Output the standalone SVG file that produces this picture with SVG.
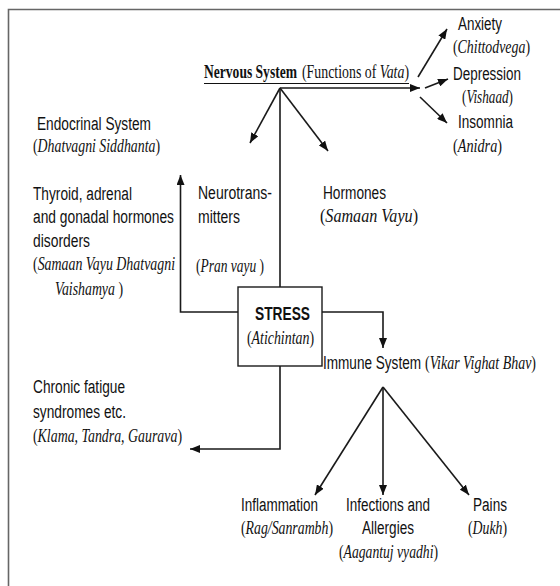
<svg xmlns="http://www.w3.org/2000/svg" width="560" height="586" viewBox="0 0 560 586">
<style>
.sa{font-family:"Liberation Sans",Arial,sans-serif;font-size:18px;fill:#111}
.se{font-family:"Liberation Serif","Times New Roman",serif;font-size:18px;fill:#111}
.i{font-style:italic}
.b{font-weight:bold}
.ln{fill:none;stroke:#1a1a1a;stroke-width:1.6}
.frame{fill:none;stroke:#666;stroke-width:1.6}
</style>
<defs>
<marker id="ah" markerUnits="userSpaceOnUse" markerWidth="10" markerHeight="8" refX="10" refY="4" orient="auto">
<path d="M0,0 L10,4 L0,8 z" fill="#111"/>
</marker>
</defs>
<rect width="560" height="586" fill="#fff"/>
<path class="frame" d="M8.5,586 V9.5 H560"/>

<g id="connectors">
<path class="ln" d="M280,88 H420" stroke-width="2.6" marker-end="url(#ah)"/>
<path class="ln" d="M280,287 V88"/>
<path class="ln" d="M280,88 L250,143" marker-end="url(#ah)"/>
<path class="ln" d="M280,88 L328,151" marker-end="url(#ah)"/>
<path class="ln" d="M418,77 L447,29" marker-end="url(#ah)"/>
<path class="ln" d="M425,88 L448,79" marker-end="url(#ah)"/>
<path class="ln" d="M420,97 L447,123" marker-end="url(#ah)"/>
<path class="ln" d="M238,312 H180.5 V175" marker-end="url(#ah)"/>
<path class="ln" d="M322,312 H383 V348" marker-end="url(#ah)"/>
<path class="ln" d="M280,366 V449 H190" marker-end="url(#ah)"/>
<path class="ln" d="M383,387 L315,495" marker-end="url(#ah)"/>
<path class="ln" d="M383,387 V495" marker-end="url(#ah)"/>
<path class="ln" d="M383,387 L469,495" marker-end="url(#ah)"/>
</g>

<g id="nervous">
<text class="se b" x="204" y="78" textLength="93" lengthAdjust="spacingAndGlyphs">Nervous System</text>
<text class="se" x="302" y="78" textLength="107" lengthAdjust="spacingAndGlyphs">(Functions of <tspan class="i">Vata</tspan>)</text>
<line x1="204" y1="83.5" x2="409" y2="83.5" stroke="#111" stroke-width="1.2"/>
</g>

<g id="anxiety">
<text class="sa" x="458" y="30" textLength="44" lengthAdjust="spacingAndGlyphs">Anxiety</text>
<text class="se" x="453" y="53" textLength="77" lengthAdjust="spacingAndGlyphs">(<tspan class="i">Chittodvega</tspan>)</text>
</g>
<g id="depression">
<text class="sa" x="453" y="80" textLength="68" lengthAdjust="spacingAndGlyphs">Depression</text>
<text class="se" x="462" y="103" textLength="51" lengthAdjust="spacingAndGlyphs">(<tspan class="i">Vishaad</tspan>)</text>
</g>
<g id="insomnia">
<text class="sa" x="458" y="128" textLength="55" lengthAdjust="spacingAndGlyphs">Insomnia</text>
<text class="se" x="453" y="152" textLength="49" lengthAdjust="spacingAndGlyphs">(<tspan class="i">Anidra</tspan>)</text>
</g>

<g id="endocrinal">
<text class="sa" x="37" y="130" textLength="114" lengthAdjust="spacingAndGlyphs">Endocrinal System</text>
<text class="se" x="33" y="152" textLength="127" lengthAdjust="spacingAndGlyphs">(<tspan class="i">Dhatvagni Siddhanta</tspan>)</text>
</g>

<g id="thyroid">
<text class="sa" x="33" y="200" textLength="99" lengthAdjust="spacingAndGlyphs">Thyroid, adrenal</text>
<text class="sa" x="33" y="223" textLength="141" lengthAdjust="spacingAndGlyphs">and gonadal hormones</text>
<text class="sa" x="33" y="247" textLength="57" lengthAdjust="spacingAndGlyphs">disorders</text>
<text class="se" x="33" y="270" textLength="142" lengthAdjust="spacingAndGlyphs">(<tspan class="i">Samaan Vayu Dhatvagni</tspan></text>
<text class="se" x="55" y="295" textLength="68" lengthAdjust="spacingAndGlyphs"><tspan class="i">Vaishamya</tspan> )</text>
</g>

<g id="neurotransmitters">
<text class="sa" x="198" y="199" textLength="74" lengthAdjust="spacingAndGlyphs">Neurotrans-</text>
<text class="sa" x="198" y="223" textLength="42" lengthAdjust="spacingAndGlyphs">mitters</text>
<text class="se" x="196" y="272" textLength="68" lengthAdjust="spacingAndGlyphs">(<tspan class="i">Pran vayu</tspan> )</text>
</g>

<g id="hormones">
<text class="sa" x="323" y="199" textLength="63" lengthAdjust="spacingAndGlyphs">Hormones</text>
<text class="se" x="320" y="222" textLength="98" lengthAdjust="spacingAndGlyphs">(<tspan class="i">Samaan Vayu</tspan>)</text>
</g>

<g id="stress">
<rect x="238" y="287" width="84" height="79" fill="#fff" stroke="#1a1a1a" stroke-width="1.4"/>
<text class="sa b" x="255" y="320" textLength="55" lengthAdjust="spacingAndGlyphs">STRESS</text>
<text class="se" x="247" y="344" textLength="67" lengthAdjust="spacingAndGlyphs">(<tspan class="i">Atichintan</tspan>)</text>
</g>

<g id="immune">
<text class="sa" x="323" y="369" textLength="98" lengthAdjust="spacingAndGlyphs">Immune System</text>
<text class="se" x="425" y="369" textLength="111" lengthAdjust="spacingAndGlyphs">(<tspan class="i">Vikar Vighat Bhav</tspan>)</text>
</g>

<g id="chronic">
<text class="sa" x="33" y="393" textLength="92" lengthAdjust="spacingAndGlyphs">Chronic fatigue</text>
<text class="sa" x="33" y="418" textLength="93" lengthAdjust="spacingAndGlyphs">syndromes etc.</text>
<text class="se" x="33" y="442" textLength="149" lengthAdjust="spacingAndGlyphs">(<tspan class="i">Klama, Tandra, Gaurava</tspan>)</text>
</g>

<g id="inflammation">
<text class="sa" x="241" y="511" textLength="77" lengthAdjust="spacingAndGlyphs">Inflammation</text>
<text class="se" x="241" y="534" textLength="92" lengthAdjust="spacingAndGlyphs">(<tspan class="i">Rag/Sanrambh</tspan>)</text>
</g>

<g id="infections">
<text class="sa" x="346" y="511" textLength="84" lengthAdjust="spacingAndGlyphs">Infections and</text>
<text class="sa" x="362" y="534" textLength="52" lengthAdjust="spacingAndGlyphs">Allergies</text>
<text class="se" x="339" y="558" textLength="99" lengthAdjust="spacingAndGlyphs">(<tspan class="i">Aagantuj vyadhi</tspan>)</text>
</g>

<g id="pains">
<text class="sa" x="473" y="511" textLength="34" lengthAdjust="spacingAndGlyphs">Pains</text>
<text class="se" x="468" y="534" textLength="39" lengthAdjust="spacingAndGlyphs">(<tspan class="i">Dukh</tspan>)</text>
</g>
</svg>
